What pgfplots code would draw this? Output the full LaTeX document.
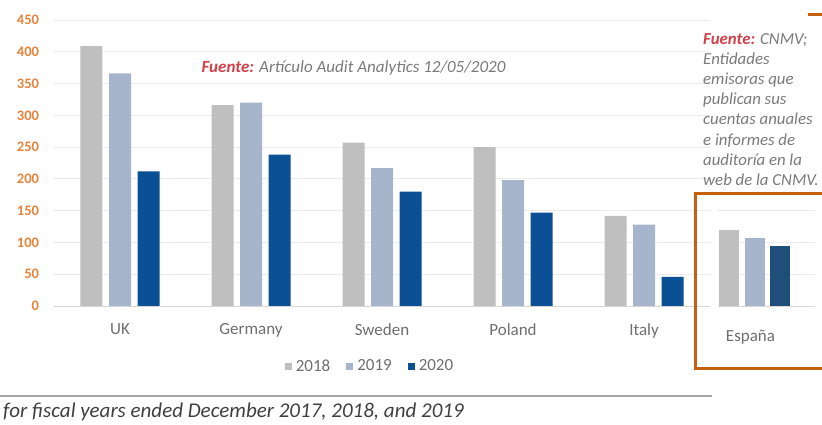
\documentclass[border=0pt]{standalone}
\usepackage{pgfplots}
\pgfplotsset{compat=1.18}
\usepackage{fontspec}
\setmainfont{Carlito}
\definecolor{cA}{HTML}{BFBFBF}
\definecolor{cB}{HTML}{A6B5CB}
\definecolor{cC}{HTML}{0B4F95}
\definecolor{cE}{HTML}{1F4E79}
\definecolor{tickor}{HTML}{E8823A}
\definecolor{boxor}{HTML}{C5600F}
\definecolor{labgray}{HTML}{6E6E6E}
\definecolor{txtgray}{HTML}{7A7A7A}
\definecolor{fred}{HTML}{D0414A}
\definecolor{gridc}{HTML}{EBEBEB}
\definecolor{basec}{HTML}{D6D6D6}
\definecolor{footc}{HTML}{3F3F3F}
\begin{document}
\begin{tikzpicture}[x=1pt,y=1pt]
\useasboundingbox (0,0) rectangle (822,424);
\begin{axis}[
  at={(54.5pt,118pt)}, anchor=south west,
  scale only axis, width=655pt, height=286pt,
  xmin=-0.5, xmax=4.5, ymin=0, ymax=450,
  ytick={0,50,...,450},
  xtick={0,...,4}, xticklabels={UK,Germany,Sweden,Poland,Italy},
  ybar=6.5pt, bar width=22pt,
  axis line style={draw=none},
  major tick length=0pt,
  ymajorgrids, grid style={draw=gridc, line width=0.8pt},
  /pgf/number format/assume math mode=true,
  yticklabel style={font=\fontsize{14.5}{14.5}\selectfont\bfseries, text=tickor, xshift=-12pt},
  xticklabel style={font=\fontsize{17}{17}\selectfont, text=labgray, yshift=-14pt},
  legend style={draw=none, fill=none, at={(0.4817,-0.21)}, anchor=center,
    legend columns=3, font=\fontsize{17}{17}\selectfont, text=labgray,
    /tikz/every odd column/.append style={column sep=2pt},
    /tikz/every even column/.append style={column sep=14pt}},
  legend image code/.code={\fill[#1] (0pt,-3.5pt) rectangle (7pt,3.5pt);},
]
\addplot[fill=cA, draw=none] coordinates {(0,409) (1,316) (2,257) (3,250) (4,142)};
\addplot[fill=cB, draw=none] coordinates {(0,366) (1,320) (2,217) (3,198) (4,128)};
\addplot[fill=cC, draw=none] coordinates {(0,212) (1,238) (2,180) (3,147) (4,46)};
\legend{2018,2019,2020}
\draw[basec, line width=1pt] (axis cs:-0.5,0) -- (axis cs:4.5,0);
\end{axis}
\begin{axis}[
  at={(718pt,118pt)}, anchor=south west,
  scale only axis, width=97pt, height=95.4pt,
  xmin=-36.5, xmax=60.5, ymin=0, ymax=150,
  ytick={0,50,100,150}, yticklabels={},
  xtick={-4}, xticklabels={España},
  ybar=5.7pt, bar width=20pt,
  axis line style={draw=none},
  major tick length=0pt,
  ymajorgrids, grid style={draw=gridc, line width=0.8pt},
  xticklabel style={font=\fontsize{17}{17}\selectfont, text=labgray, yshift=-21pt},
]
\addplot[fill=cA, draw=none] coordinates {(0,120)};
\addplot[fill=cB, draw=none] coordinates {(0,107)};
\addplot[fill=cE, draw=none] coordinates {(0,95)};
\draw[basec, line width=1pt] (axis cs:-36.5,0) -- (axis cs:60.5,0);
\end{axis}
\node[font=\fontsize{17}{17}\selectfont\itshape, inner sep=0pt] at (353.5,356)
  {{\bfseries\color{fred}Fuente:} {\color{txtgray}Artículo Audit Analytics 12/05/2020}};
\node[anchor=west, align=left, inner sep=0pt, text=txtgray,
  font=\fontsize{16.8}{20.2}\selectfont\itshape] at (703,314.5)
  {{\bfseries\color{fred}Fuente:} CNMV;\\Entidades\\emisoras que\\publican sus\\cuentas anuales\\e informes de\\auditoría en la\\web de la CNMV.};
\draw[boxor, line width=3pt] (695,231) rectangle (832,56);
\draw[boxor, line width=3pt] (808,409) -- (832,409);
\draw[gray!70, line width=1.5pt] (0,28) -- (712,28);
\node[anchor=west, inner sep=0pt, text=footc, font=\fontsize{21}{21}\selectfont\itshape] at (3,12)
  {for fiscal years ended December 2017, 2018, and 2019};
\end{tikzpicture}
\end{document}
